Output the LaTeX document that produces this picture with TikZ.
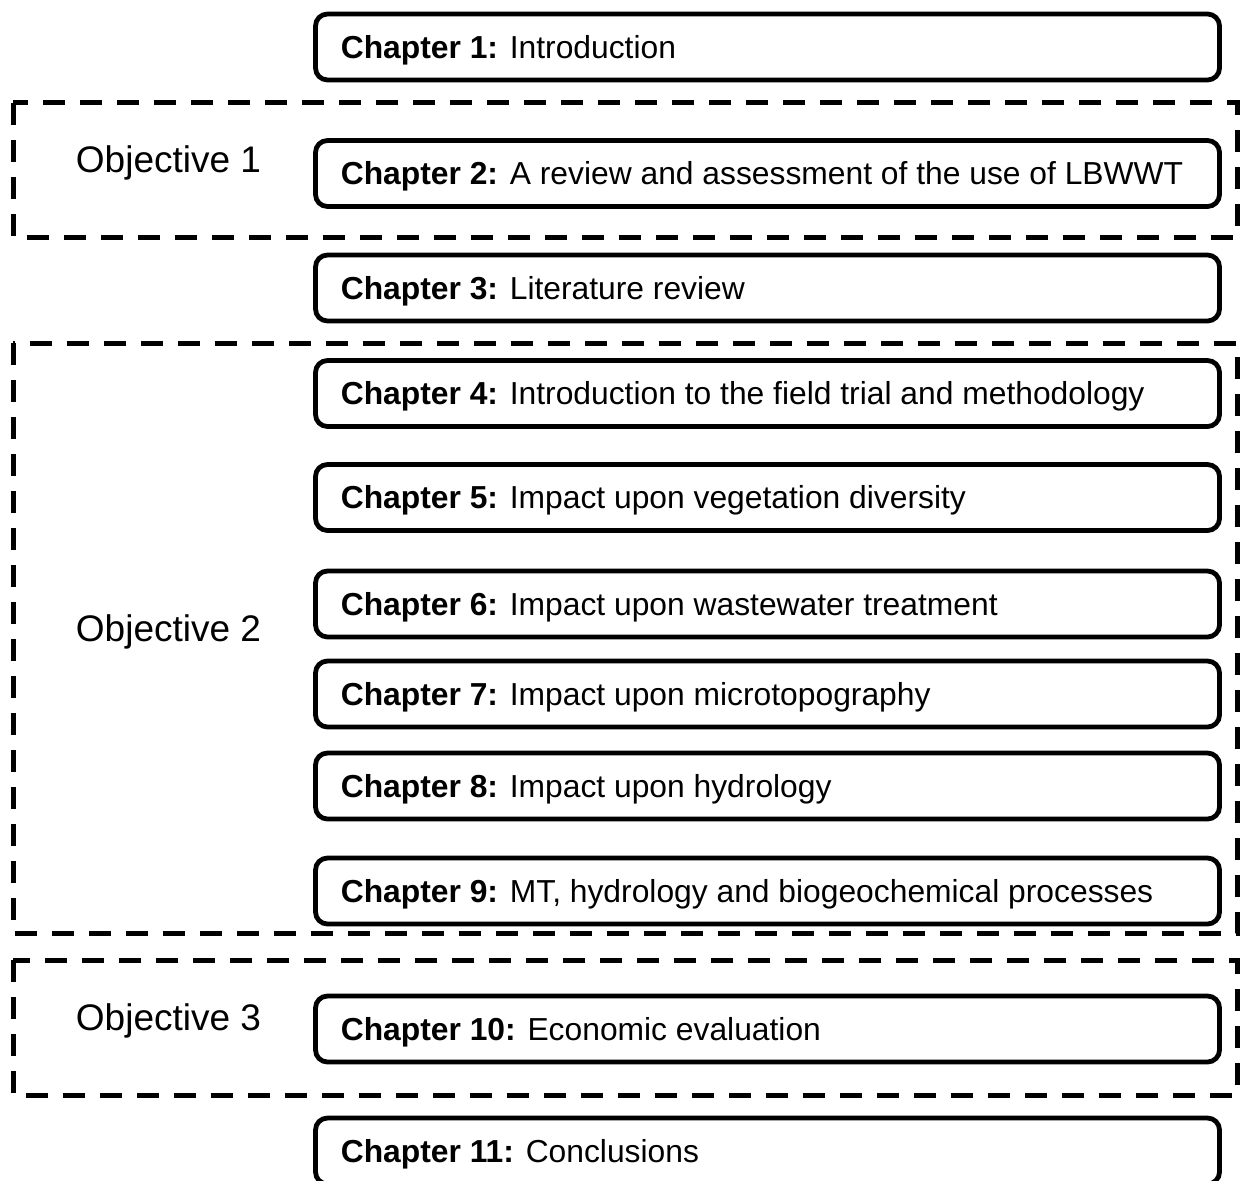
\documentclass[tikz,border=0pt]{standalone}
\usepackage{fontspec}
\setmainfont{Liberation Sans}
\begin{document}
\begin{tikzpicture}[x=1pt,y=-1pt,
  chapbox/.style={draw=black,line width=4.8pt,rounded corners=12pt,minimum width=904pt,minimum height=66pt,inner sep=0pt},
  chaptext/.style={anchor=base west,inner sep=0pt,font=\fontsize{31.8}{36}\selectfont},
  objframe/.style={draw=black,line width=5pt,dash pattern=on 22pt off 15pt},
  objtext/.style={anchor=base,inner sep=0pt,font=\fontsize{37}{42}\selectfont}]
\useasboundingbox (0,0) rectangle (1246,1180);
% objective frames
\draw[objframe] (13,103) rectangle (1237,237);
\draw[objframe] (13,343) rectangle (1237,933);
\draw[objframe] (13,960) rectangle (1237,1095);
\node[objtext] (o1) at (168.5,172.7) {Objective 1};
\node[objtext] (o2) at (168.5,641) {Objective 2};
\node[objtext] (o3) at (168.5,1030) {Objective 3};
% chapter boxes
\foreach \n/\yy/\txt in {
  1/47/{\textbf{Chapter 1:} Introduction},
  2/173.5/{\textbf{Chapter 2:} A review and assessment of the use of LBWWT},
  3/288/{\textbf{Chapter 3:} Literature review},
  4/393.5/{\textbf{Chapter 4:} Introduction to the field trial and methodology},
  5/497.5/{\textbf{Chapter 5:} Impact upon vegetation diversity},
  6/604/{\textbf{Chapter 6:} Impact upon wastewater treatment},
  7/694/{\textbf{Chapter 7:} Impact upon microtopography},
  8/786/{\textbf{Chapter 8:} Impact upon hydrology},
  9/891/{\textbf{Chapter 9:} MT, hydrology and biogeochemical processes},
  10/1029/{\textbf{Chapter 10:} Economic evaluation},
  11/1151/{\textbf{Chapter 11:} Conclusions}}{
  \node[chapbox] (c\n) at (767.5,\yy) {};
  \node[chaptext] (t\n) at ([xshift=27.5pt,yshift=-11.4pt]c\n.west) {\txt};
}
\end{tikzpicture}
\end{document}
